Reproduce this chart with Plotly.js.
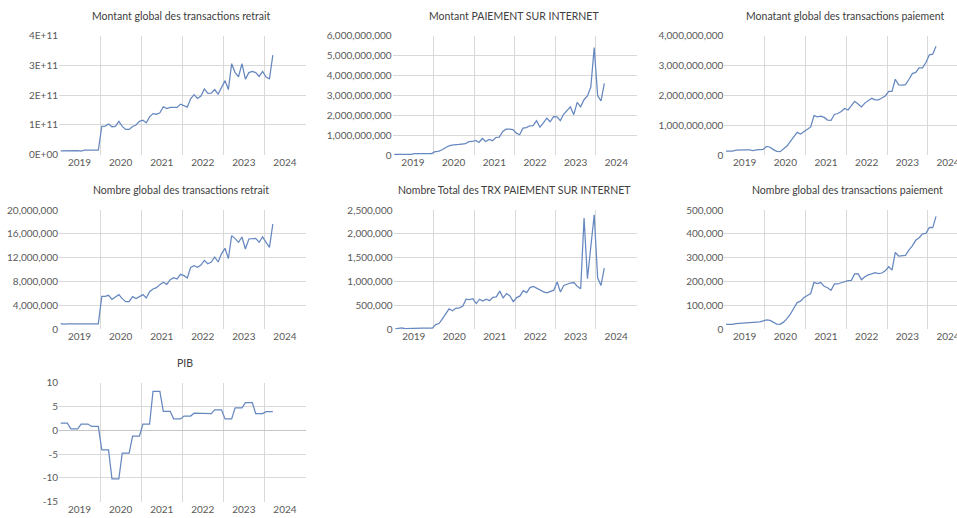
<!DOCTYPE html>
<html><head><meta charset="utf-8">
<script src="https://cdn.plot.ly/plotly-3.0.1.min.js"></script>
<style>html,body{margin:0;padding:0;background:#fff;overflow:hidden;width:957px;height:518px}#chart{width:972px;height:518px}</style>
</head><body><div id="chart"></div>
<script>
// Monthly categories (Jan 2019 - Mar 2024)
const months = [
 '2019-01','2019-02','2019-03','2019-04','2019-05','2019-06','2019-07','2019-08','2019-09','2019-10','2019-11','2019-12',
 '2020-01','2020-02','2020-03','2020-04','2020-05','2020-06','2020-07','2020-08','2020-09','2020-10','2020-11','2020-12',
 '2021-01','2021-02','2021-03','2021-04','2021-05','2021-06','2021-07','2021-08','2021-09','2021-10','2021-11','2021-12',
 '2022-01','2022-02','2022-03','2022-04','2022-05','2022-06','2022-07','2022-08','2022-09','2022-10','2022-11','2022-12',
 '2023-01','2023-02','2023-03','2023-04','2023-05','2023-06','2023-07','2023-08','2023-09','2023-10','2023-11','2023-12',
 '2024-01','2024-02','2024-03'];

const titles = ['Montant global des transactions retrait','Montant PAIEMENT SUR INTERNET','Monatant global des transactions paiement',
 'Nombre global des transactions retrait','Nombre Total des TRX PAIEMENT SUR INTERNET','Nombre global des transactions paiement','PIB'];

const montantRetrait = [
 1.3e10,1.3e10,1.4e10,1.5e10,1.5e10,1.4e10,1.2e10,1.5e10,1.5e10,1.5e10,1.5e10,1.5e10,
 9.5e10,9.6e10,10.3e10,9.4e10,9.5e10,11.2e10,9.5e10,8.5e10,8.5e10,9.5e10,10.0e10,11.2e10,
 11.6e10,10.7e10,12.7e10,13.8e10,13.6e10,14.1e10,16.1e10,15.5e10,15.9e10,16.0e10,15.9e10,17.0e10,
 16.6e10,16.0e10,18.8e10,20.2e10,18.9e10,19.7e10,22.1e10,20.6e10,20.7e10,21.9e10,20.4e10,22.9e10,
 24.9e10,21.9e10,30.6e10,27.6e10,26.2e10,30.6e10,25.4e10,27.6e10,28.0e10,27.6e10,26.3e10,28.0e10,
 26.1e10,25.5e10,33.5e10];

const montantInternet = [
 0.03e9,0.03e9,0.03e9,0.03e9,0.03e9,0.03e9,0.07e9,0.07e9,0.07e9,0.07e9,0.07e9,0.07e9,
 0.17e9,0.18e9,0.25e9,0.35e9,0.45e9,0.50e9,0.53e9,0.53e9,0.55e9,0.57e9,0.67e9,0.68e9,
 0.73e9,0.63e9,0.83e9,0.68e9,0.78e9,0.72e9,0.88e9,0.90e9,1.18e9,1.30e9,1.30e9,1.28e9,
 1.10e9,1.02e9,1.35e9,1.38e9,1.47e9,1.48e9,1.73e9,1.40e9,1.62e9,1.85e9,1.67e9,1.93e9,
 1.92e9,1.73e9,2.05e9,2.22e9,2.42e9,2.03e9,2.65e9,2.42e9,2.78e9,2.97e9,3.42e9,5.40e9,
 2.98e9,2.72e9,3.60e9];

const montantPaiement = [
 0.13e9,0.12e9,0.13e9,0.16e9,0.17e9,0.16e9,0.17e9,0.17e9,0.15e9,0.17e9,0.19e9,0.19e9,
 0.29e9,0.26e9,0.18e9,0.12e9,0.11e9,0.20e9,0.30e9,0.46e9,0.60e9,0.76e9,0.70e9,0.79e9,
 0.88e9,0.94e9,1.32e9,1.28e9,1.30e9,1.26e9,1.17e9,1.16e9,1.36e9,1.39e9,1.46e9,1.56e9,
 1.51e9,1.64e9,1.80e9,1.71e9,1.61e9,1.74e9,1.82e9,1.90e9,1.85e9,1.85e9,1.91e9,1.98e9,
 2.13e9,2.13e9,2.54e9,2.35e9,2.34e9,2.36e9,2.53e9,2.73e9,2.77e9,2.92e9,2.92e9,3.10e9,
 3.36e9,3.38e9,3.65e9];

const nombreRetrait = [
 0.95e6,0.85e6,0.90e6,0.90e6,0.90e6,0.90e6,0.90e6,0.90e6,0.90e6,0.90e6,0.90e6,0.90e6,
 5.53e6,5.53e6,5.70e6,5.03e6,5.42e6,5.81e6,5.14e6,4.64e6,4.64e6,5.47e6,5.14e6,5.47e6,
 5.81e6,5.25e6,6.31e6,6.76e6,6.98e6,7.49e6,7.88e6,7.54e6,8.32e6,8.66e6,8.44e6,9.22e6,
 8.99e6,8.60e6,10.39e6,10.67e6,10.39e6,10.78e6,11.56e6,11.00e6,11.28e6,12.12e6,11.28e6,12.68e6,
 13.58e6,11.84e6,15.70e6,15.20e6,14.58e6,15.47e6,13.46e6,15.14e6,15.25e6,15.25e6,14.58e6,15.47e6,
 14.58e6,13.74e6,17.65e6];

const nombreInternet = [
 10e3,15e3,30e3,15e3,20e3,10e3,20e3,25e3,25e3,25e3,25e3,25e3,
 100e3,120e3,220e3,340e3,430e3,390e3,440e3,450e3,480e3,630e3,620e3,640e3,
 540e3,630e3,590e3,630e3,600e3,670e3,680e3,800e3,660e3,750e3,700e3,580e3,
 665e3,700e3,810e3,770e3,875e3,900e3,860e3,820e3,785e3,765e3,790e3,820e3,
 990e3,780e3,920e3,950e3,970e3,980e3,900e3,850e3,2330e3,1060e3,1720e3,2400e3,
 1080e3,920e3,1280e3];

const nombrePaiement = [
 21e3,20e3,21e3,24e3,25e3,25e3,26e3,26e3,27e3,28e3,31e3,35e3,
 39e3,37e3,30e3,22e3,21e3,30e3,45e3,64e3,88e3,112e3,118e3,133e3,
 142e3,150e3,197e3,192e3,196e3,180e3,174e3,163e3,190e3,190e3,195e3,200e3,
 204e3,205e3,232e3,233e3,208e3,220e3,228e3,232e3,237e3,233e3,236e3,245e3,
 262e3,248e3,322e3,307e3,307e3,310e3,332e3,350e3,373e3,384e3,400e3,402e3,
 427e3,426e3,473e3];

const pib = [
 1.5,1.5,1.5, 0.3,0.3,0.3, 1.3,1.3,1.3, 0.8,0.8,0.8,
 -4.1,-4.1,-4.1, -10.2,-10.2,-10.2, -4.8,-4.8,-4.8, -1.2,-1.2,-1.2,
 1.3,1.3,1.3, 8.2,8.2,8.2, 4.0,4.0,4.0, 2.4,2.4,2.4,
 3.0,3.0,3.0, 3.6,3.6,3.6, 3.5,3.5,3.5, 4.3,4.3,4.3,
 2.4,2.4,2.4, 4.7,4.7,4.7, 5.8,5.8,5.8, 3.5,3.5,3.5,
 3.9,3.9,3.9];

const retraitTickVals = [0,1e11,2e11,3e11,4e11];
const retraitTickText = ['0E+00','1E+11','2E+11','3E+11','4E+11'];
const pibTickVals = [-15,-10,-5,0,5,10];
const pibTickText = ['-15','-10','-5','0','5','10'];

const series = [montantRetrait, montantInternet, montantPaiement, nombreRetrait, nombreInternet, nombrePaiement, pib];

// The figure is slightly wider than the 957px window so the right-hand column is clipped like the original.
const W = 972, H = 518;
// plot areas in pixels: [x0, x1, yTop, yBottom]
const boxes = [
 [59, 305.5, 35.7, 154.7],
 [392.6, 636.7, 35.7, 155],
 [724.3, 968.4, 35.7, 155],
 [59, 305.5, 210, 329.3],
 [393.5, 636.5, 210, 329.3],
 [724.3, 968.4, 210, 329.3],
 [59, 305.5, 382.7, 501.7]
];
const xRange = ['2019-01-01','2025-01-01'];
const yRanges = [[0,4e11],[0,6e9],[0,4e9],[0,2e7],[0,2.5e6],[0,5e5],[-15,10]];
const yDticks = [1e11,1e9,1e9,4e6,5e5,1e5,5];
const titlePos = [[181.7,16],[513.8,16],[845.3,16],[181.3,190],[514.7,190],[847,190],[184.5,363.3]];

const lineColor = '#6688c0';
const gridColor = '#d9d9d9';
const tickFont = {family:'Lato, "Open Sans", sans-serif', size:10, color:'#595959'};

const traces = [];
const layout = {
  width: W, height: H,
  margin: {l:0, r:0, t:0, b:0},
  paper_bgcolor: '#fff', plot_bgcolor: '#fff',
  showlegend: false, hovermode: false,
  annotations: []
};

series.forEach((vals, k) => {
  const n = k === 0 ? '' : String(k+1);
  traces.push({
    type: 'scatter', mode: 'lines',
    x: months, y: vals,
    xperiod: 'M1', xperiodalignment: 'middle',
    xaxis: 'x' + n, yaxis: 'y' + n,
    line: {color: lineColor, width: 1.25}
  });
  const b = boxes[k];
  const xa = {
    domain: [b[0]/W, b[1]/W],
    anchor: 'y' + n,
    type: 'date',
    range: xRange,
    tick0: '2019-01-01', dtick: 'M12',
    ticklabelmode: 'period', tickformat: '%Y',
    showgrid: true, gridcolor: gridColor, gridwidth: 1,
    zeroline: false, showline: false, ticks: '',
    tickfont: tickFont
  };
  const ya = {
    domain: [1 - b[3]/H, 1 - b[2]/H],
    anchor: 'x' + n,
    range: yRanges[k],
    dtick: yDticks[k],
    tickformat: ',',
    showgrid: true, gridcolor: gridColor, gridwidth: 1,
    zeroline: k === 6, zerolinecolor: '#c6c6c6', zerolinewidth: 1.5,
    showline: false, ticks: '',
    tickfont: tickFont
  };
  if (k === 0) {
    ya.tickmode = 'array'; ya.tickvals = retraitTickVals; ya.ticktext = retraitTickText;
  }
  if (k === 6) {
    ya.tickmode = 'array'; ya.tickvals = pibTickVals; ya.ticktext = pibTickText;
  }
  layout['xaxis' + n] = xa;
  layout['yaxis' + n] = ya;
  layout.annotations.push({
    text: titles[k], xref: 'paper', yref: 'paper',
    x: titlePos[k][0]/W, y: 1 - titlePos[k][1]/H,
    xanchor: 'center', yanchor: 'middle', showarrow: false,
    font: {family:'Lato, "Open Sans", sans-serif', size: 10.5, color:'#404040'}
  });
});

Plotly.newPlot('chart', traces, layout, {staticPlot: true, displayModeBar: false});
</script>
</body></html>
